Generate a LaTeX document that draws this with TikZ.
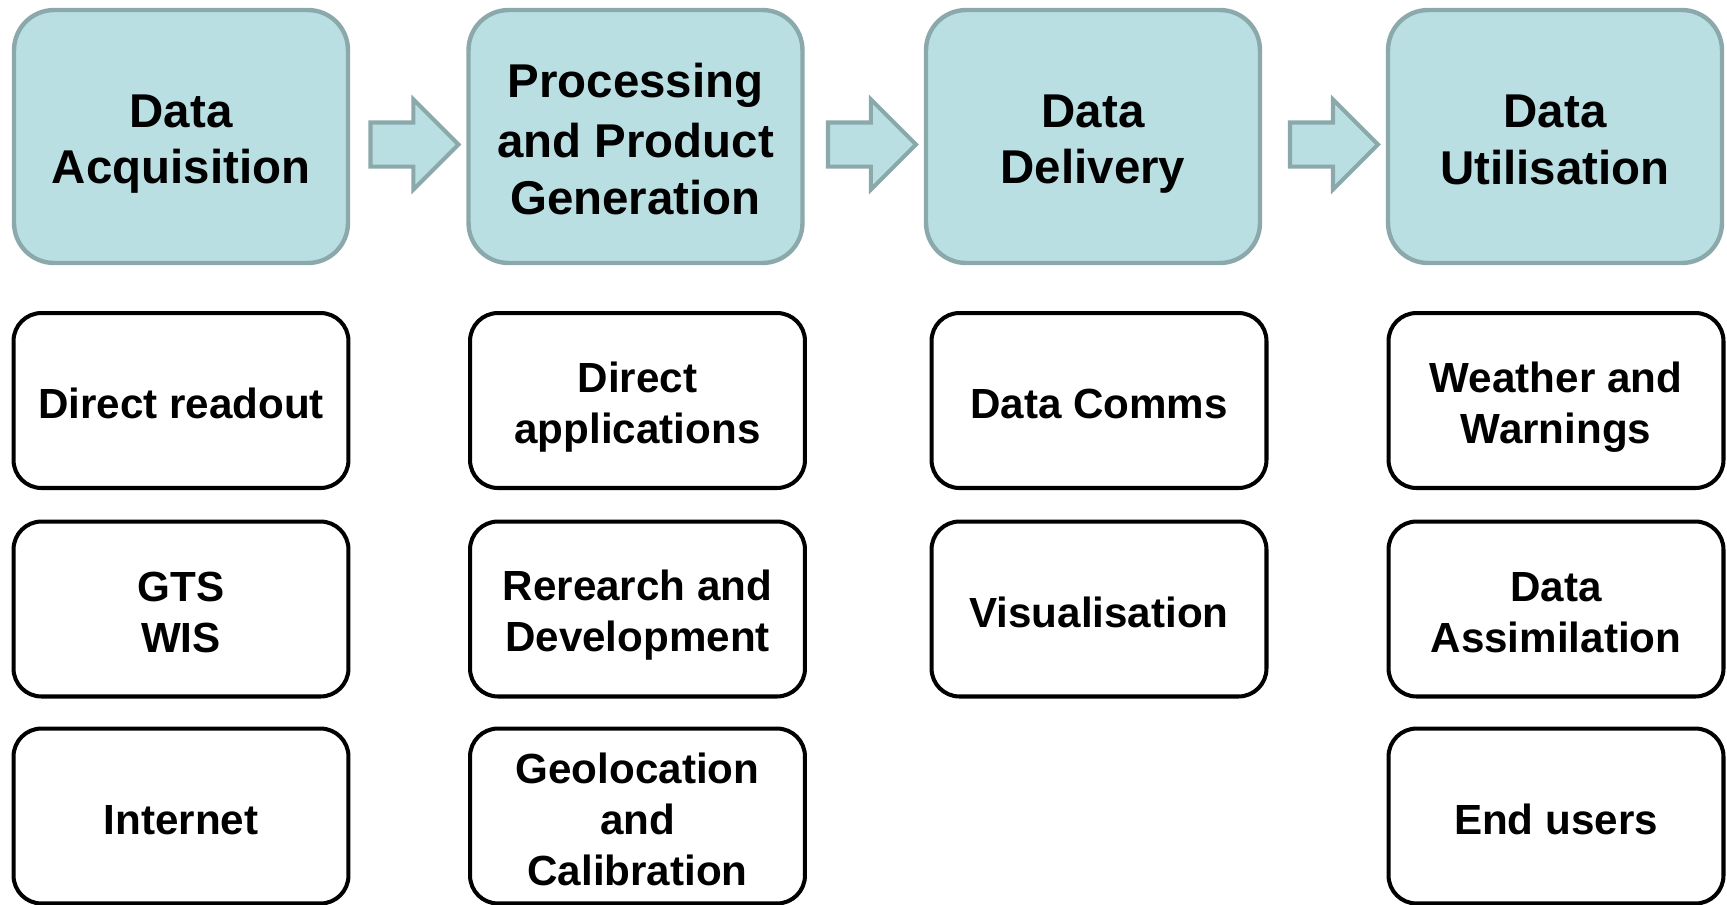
\documentclass[tikz,border=0pt]{standalone}
\usepackage{fontspec}
\setmainfont{Liberation Sans}
\usepackage{tikz}
\usetikzlibrary{calc, positioning, shapes.arrows}

\definecolor{stagefill}{RGB}{186,223,227}
\definecolor{stageline}{RGB}{139,168,171}

% struts, so that every line of a box has the same height
\newcommand{\stagestrut}{\rule[-5.2pt]{0pt}{32.4pt}}
\newcommand{\boxstrut}{\rule[-4.2pt]{0pt}{29pt}}

\begin{document}
\begin{tikzpicture}[x=0.02cm, y=-0.02cm,
    stage/.style={draw=stageline, fill=stagefill, line width=2.5pt,
      rounded corners=0.8cm, minimum width=6.68cm, minimum height=5.06cm,
      inner sep=0pt, align=center, font=\fontsize{27}{32.4}\selectfont\bfseries},
    item/.style={draw=black, line width=2.3pt, rounded corners=0.56cm,
      minimum width=6.7cm, minimum height=3.5cm, inner sep=0pt, align=center,
      font=\fontsize{24}{29}\selectfont\bfseries},
    blockarrow/.style={single arrow, draw=stageline, fill=stagefill,
      line width=2.3pt, minimum height=1.76cm, inner xsep=0pt, inner ysep=0.4cm,
      single arrow head extend=0.46cm, anchor=tip}]
  \useasboundingbox (0,0) rectangle (1727,904);

  % stages
  \node [stage] (acq)  at (181,136.5)  {\stagestrut Data\\\stagestrut Acquisition};
  \node [stage] (proc) at (635.5,136.5) {\stagestrut Processing\\\stagestrut and Product\\\stagestrut Generation};
  \node [stage] (del)  at (1093,136.5) {\stagestrut Data\\\stagestrut Delivery};
  \node [stage] (util) at (1555,136.5) {\stagestrut Data\\\stagestrut Utilisation};

  % arrows between stages
  \node [blockarrow] (a1) at ($(proc.west)+(-5,8)$) {};
  \node [blockarrow] (a2) at ($(del.west)+(-5,8)$) {};
  \node [blockarrow] (a3) at ($(util.west)+(-5,8)$) {};

  % first column
  \node [item] (readout) at (181,400.5) {\boxstrut Direct readout};
  \node [item] (gts)     at (181,609)   {\boxstrut GTS\\\boxstrut WIS};
  \node [item] (net)     at (181,816)   {\boxstrut Internet};

  % second column
  \node [item] (apps)  at (637.5,400.5) {\boxstrut Direct\\\boxstrut applications};
  \node [item] (rnd)   at (637.5,609)   {\boxstrut Rerearch and\\\boxstrut Development};
  \node [item] (geo)   at (637.5,816)   {\boxstrut Geolocation\\\boxstrut and\\\boxstrut Calibration};

  % third column
  \node [item] (comms) at (1099,400.5) {\boxstrut Data Comms};
  \node [item] (vis)   at (1099,609)   {\boxstrut Visualisation};

  % fourth column
  \node [item] (warn)  at (1556,400.5) {\boxstrut Weather and\\\boxstrut Warnings};
  \node [item] (assim) at (1556,609)   {\boxstrut Data\\\boxstrut Assimilation};
  \node [item] (users) at (1556,816)   {\boxstrut End users};
\end{tikzpicture}
\end{document}
